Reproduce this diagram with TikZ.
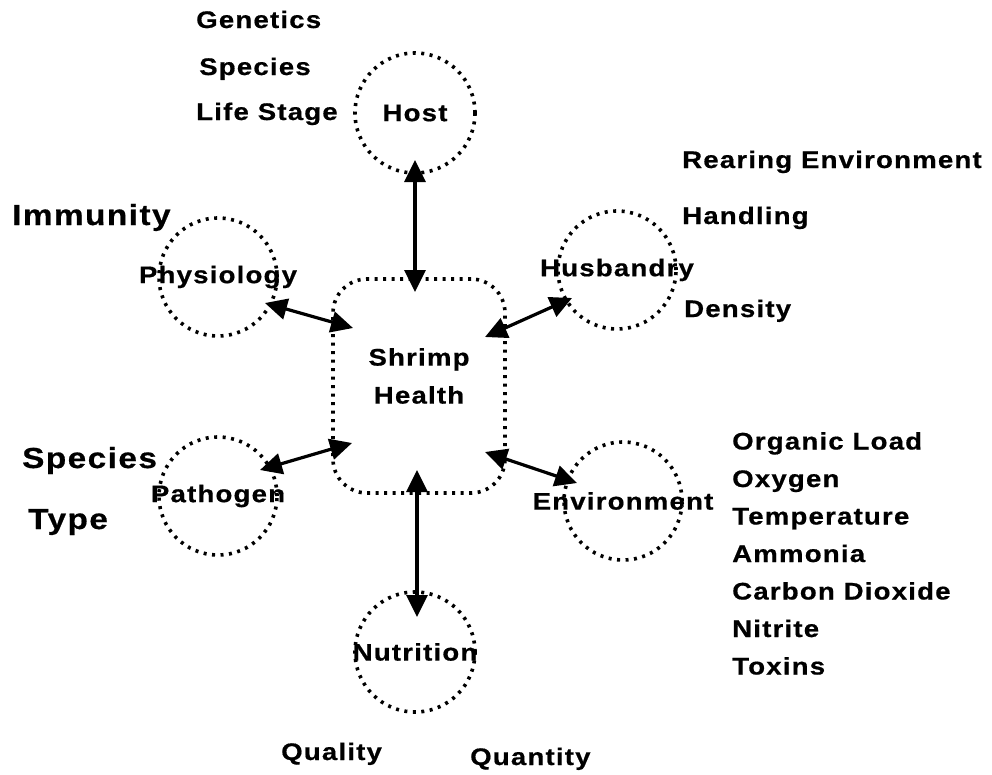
\documentclass[tikz,border=0pt]{standalone}
\usepackage{fontspec}
\newfontfamily\diagsans{Liberation Sans Bold}[FakeStretch=1.15, LetterSpace=5, FakeBold=0.6]
\usepackage{tikz}
\usetikzlibrary{arrows.meta,calc}

\tikzset{
    every node/.style={font=\diagsans\fontsize{24}{28}\selectfont, inner sep=0pt},
    dotline/.style={line width=3.6pt, dash pattern=on 3pt off 5.5pt},
    factor/.style={circle, draw, dotline, minimum size=118pt},
    hub/.style={rectangle, draw, dotline, rounded corners=34pt, minimum width=172pt, minimum height=214pt},
    item/.style={anchor=base west},
    bigitem/.style={anchor=base west, font=\diagsans\fontsize{29}{32}\selectfont},
    biarrow/.style={{Triangle[length=22pt,width=21pt]}-{Triangle[length=22pt,width=21pt]}, line width=3.2pt}
}

\begin{document}
\begin{tikzpicture}[x=1pt,y=-1pt]
    \useasboundingbox (0,0) rectangle (992,774);

    \node[hub, label={[align=center, font=\diagsans\fontsize{24}{38}\selectfont, yshift=10pt]center:Shrimp\\Health}] (health) at (419,386) {};
    \node[factor, minimum size=120pt, label=center:Host] (host) at (415,113) {};
    \node[factor, label=center:Physiology] (phys) at (218,277) {};
    \node[factor, label=center:Husbandry] (husb) at (617,270) {};
    \node[factor, label=center:Pathogen] (path) at (218,496) {};
    \node[factor, label=center:Environment] (env) at (623,501) {};
    \node[factor, minimum size=120pt, label=center:Nutrition] (nutr) at (415,652) {};

    \draw[biarrow] ($(host)+(0,47)$) -- ($(health)+(-4,-94)$);
    \draw[biarrow] ($(phys)+(47,26)$) -- ($(health)+(-66,-58)$);
    \draw[biarrow] ($(husb)+(-45,28)$) -- ($(health)+(66,-49)$);
    \draw[biarrow] ($(path)+(42,-26)$) -- ($(health)+(-67,57)$);
    \draw[biarrow] ($(env)+(-46,-18)$) -- ($(health)+(66,66)$);
    \draw[biarrow] ($(health)+(-2,84)$) -- ($(nutr)+(2,-35)$);

    \node[item] (genetics) at (196,28) {Genetics};
    \node[item] (species) at (199,75) {Species};
    \node[item] (lifestage) at (196,120) {Life Stage};

    \node[item] (rearing) at (682,168) {Rearing Environment};
    \node[item] (handling) at (682,224) {Handling};
    \node[item] (density) at (684,317) {Density};

    \node[bigitem] (immunity) at (12,225) {Immunity};
    \node[bigitem] (pspecies) at (22,468) {Species};
    \node[bigitem] (ptype) at (28,529) {Type};

    \foreach \txt [count=\i] in {Organic Load, Oxygen, Temperature, Ammonia, Carbon Dioxide, Nitrite, Toxins}
        \node[item] (env\i) at (732,{412+37.5*\i}) {\txt};

    \node[item] (quality) at (281,760) {Quality};
    \node[item] (quantity) at (470,765) {Quantity};
\end{tikzpicture}
\end{document}
